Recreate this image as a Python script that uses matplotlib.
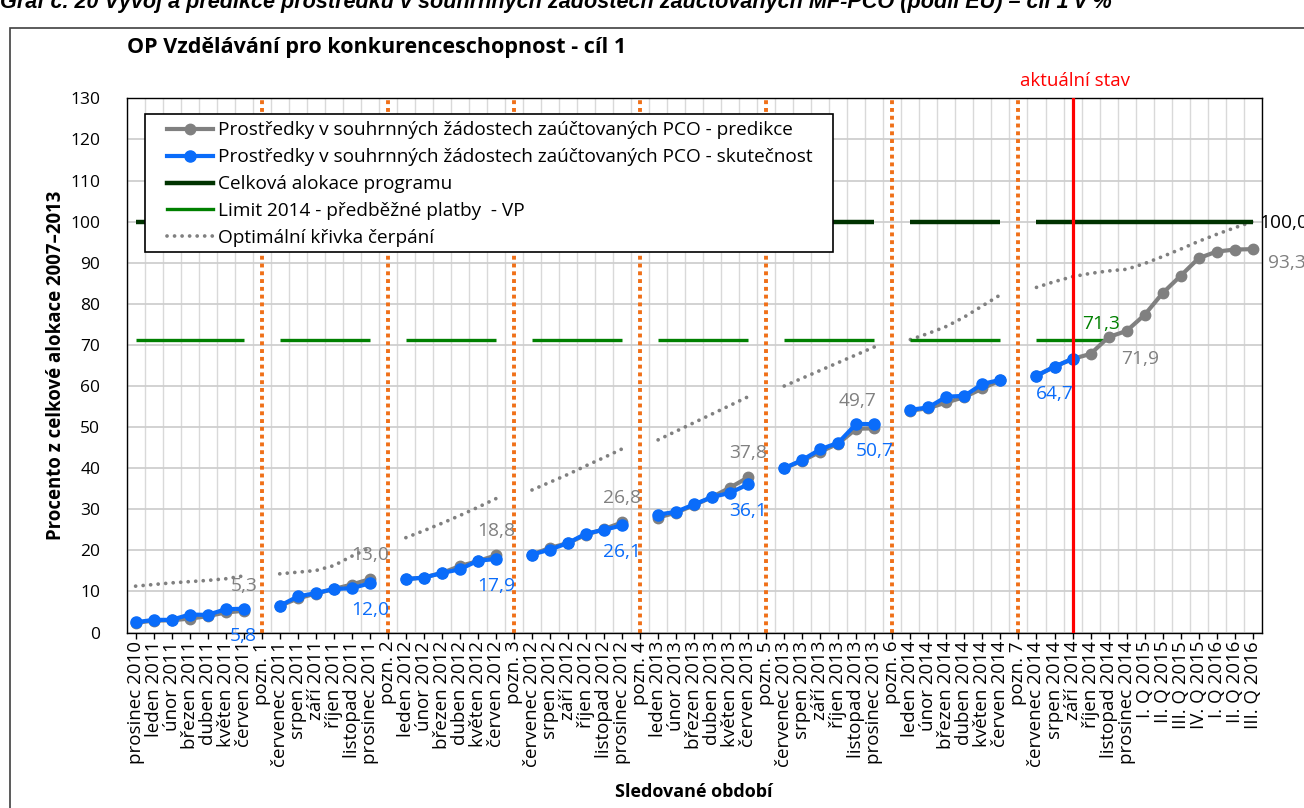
import matplotlib
matplotlib.use("Agg")
import matplotlib.pyplot as plt
import numpy as np
from matplotlib.patches import Rectangle
from matplotlib.lines import Line2D

plt.rcParams['font.family'] = ['Open Sans', 'DejaVu Sans']

# --- data -------------------------------------------------------------
categories = [
    "prosinec 2010", "leden 2011", "únor 2011", "březen 2011", "duben 2011", "květen 2011", "červen 2011", "pozn. 1",
    "červenec 2011", "srpen 2011", "září 2011", "říjen 2011", "listopad 2011", "prosinec 2011", "pozn. 2",
    "leden 2012", "únor 2012", "březen 2012", "duben 2012", "květen 2012", "červen 2012", "pozn. 3",
    "červenec 2012", "srpen 2012", "září 2012", "říjen 2012", "listopad 2012", "prosinec 2012", "pozn. 4",
    "leden 2013", "únor 2013", "březen 2013", "duben 2013", "květen 2013", "červen 2013", "pozn. 5",
    "červenec 2013", "srpen 2013", "září 2013", "říjen 2013", "listopad 2013", "prosinec 2013", "pozn. 6",
    "leden 2014", "únor 2014", "březen 2014", "duben 2014", "květen 2014", "červen 2014", "pozn. 7",
    "červenec 2014", "srpen 2014", "září 2014", "říjen 2014", "listopad 2014", "prosinec 2014",
    "I. Q 2015", "II. Q 2015", "III. Q 2015", "IV. Q 2015", "I. Q 2016", "II. Q 2016", "III. Q 2016",
]

predikce = [
    2.4, 2.9, 3.0, 3.4, 4.0, 4.9, 5.3, None,
    6.5, 8.3, 9.5, 10.6, 11.7, 13.0, None,
    13.0, 13.4, 14.5, 16.2, 17.4, 18.8, None,
    19.0, 20.6, 21.8, 23.8, 25.2, 26.8, None,
    28.0, 29.2, 31.0, 33.0, 35.3, 37.8, None,
    40.0, 41.8, 44.0, 46.0, 49.6, 49.7, None,
    54.0, 54.6, 56.0, 57.3, 59.4, 61.4, None,
    62.5, 64.7, 66.6, 67.8, 71.9, 73.4, 77.3, 82.6, 86.8, 91.1, 92.7, 93.2, 93.3,
]

skutecnost = [
    2.5, 3.1, 3.1, 4.4, 4.3, 5.7, 5.8, None,
    6.5, 8.8, 9.6, 10.6, 10.8, 12.0, None,
    13.0, 13.4, 14.5, 15.4, 17.5, 17.9, None,
    19.0, 20.2, 21.8, 24.1, 25.0, 26.1, None,
    28.7, 29.4, 31.2, 33.0, 34.0, 36.1, None,
    40.0, 42.0, 44.6, 46.2, 50.8, 50.7, None,
    54.2, 54.8, 57.4, 57.6, 60.5, 61.5, None,
    62.5, 64.7, 66.6, None, None, None, None, None, None, None, None, None, None,
]

alokace = [
    100, 100, 100, 100, 100, 100, 100, None,
    100, 100, 100, 100, 100, 100, None,
    100, 100, 100, 100, 100, 100, None,
    100, 100, 100, 100, 100, 100, None,
    100, 100, 100, 100, 100, 100, None,
    100, 100, 100, 100, 100, 100, None,
    100, 100, 100, 100, 100, 100, None,
    100, 100, 100, 100, 100, 100, 100, 100, 100, 100, 100, 100, 100,
]

limit_2014 = [
    71.3, 71.3, 71.3, 71.3, 71.3, 71.3, 71.3, None,
    71.3, 71.3, 71.3, 71.3, 71.3, 71.3, None,
    71.3, 71.3, 71.3, 71.3, 71.3, 71.3, None,
    71.3, 71.3, 71.3, 71.3, 71.3, 71.3, None,
    71.3, 71.3, 71.3, 71.3, 71.3, 71.3, None,
    71.3, 71.3, 71.3, 71.3, 71.3, 71.3, None,
    71.3, 71.3, 71.3, 71.3, 71.3, 71.3, None,
    71.3, 71.3, 71.3, 71.3, 71.3, None, None, None, None, None, None, None, None,
]

optimalni = [
    11.3, 11.7, 12.1, 12.4, 12.7, 13.1, 13.8, None,
    14.3, 14.7, 15.1, 16.3, 18.6, 20.6, None,
    23.1, 24.8, 26.6, 28.5, 30.5, 32.6, None,
    34.7, 36.6, 38.5, 40.6, 42.6, 44.7, None,
    46.9, 49.0, 51.1, 53.2, 55.3, 57.4, None,
    60.0, 61.9, 63.8, 65.7, 67.6, 69.5, None,
    71.3, 72.8, 74.5, 76.8, 79.5, 82.2, None,
    84.0, 85.4, 86.6, 87.4, 88.0, 88.4, 89.8, 91.5, 93.3, 95.2, 96.9, 98.5, 100.0,
]

# which points carry a value label
pred_label_idx = [6, 13, 20, 27, 34, 41, 54, 62]
skut_label_idx = [6, 13, 20, 27, 34, 41, 51]
limit_label_idx = 54
alokace_label_idx = 62
current_period = "září 2014"

labels_legend = [
    "Prostředky v souhrnných žádostech zaúčtovaných PCO - predikce",
    "Prostředky v souhrnných žádostech zaúčtovaných PCO - skutečnost",
    "Celková alokace programu",
    "Limit 2014 - předběžné platby  - VP",
    "Optimální křivka čerpání",
]

# --- colours ----------------------------------------------------------
GREY = '#808080'
BLUE = '#0A6CFA'
DKGREEN = '#003300'
GREEN = '#008000'
ORANGE = '#F07018'
RED = '#FF0000'
OPT_STYLE = (0, (0.01, 2.0))

x = np.arange(len(categories))
pred = np.array(predikce, dtype=float)
skut = np.array(skutecnost, dtype=float)
alok = np.array(alokace, dtype=float)
lim = np.array(limit_2014, dtype=float)
opt = np.array(optimalni, dtype=float)


def fmt(v):
    return f"{v:.1f}".replace('.', ',')


fig = plt.figure(figsize=(13.04, 8.08), dpi=100)
ax = fig.add_axes([0.09709, 0.21708, 0.87048, 0.66126])

# grid
ax.set_axisbelow(True)
ax.set_xticks(x)
ax.set_xticks(np.arange(-0.5, len(categories), 1), minor=True)
ax.grid(axis='x', which='minor', color='#d9d9d9', lw=1.0)
ax.grid(axis='y', which='major', color='#cfcfcf', lw=1.3)

# note separators
pozn_idx = [i for i, c in enumerate(categories) if c.startswith('pozn')]
for i in pozn_idx:
    ax.axvline(i, color=ORANGE, lw=2.8, linestyle=(0, (1, 1)), zorder=2)

ax.plot(x, opt, color=GREY, lw=2.7, linestyle=OPT_STYLE, dash_capstyle='round', zorder=2)
ax.plot(x, alok, color=DKGREEN, lw=3.2, solid_capstyle='butt', zorder=3)
ax.plot(x, lim, color=GREEN, lw=2.4, solid_capstyle='butt', zorder=3)
ax.plot(x, pred, color=GREY, lw=3, marker='o', ms=7.5, zorder=4)
ax.plot(x, skut, color=BLUE, lw=3, marker='o', ms=8, zorder=5)

cur = categories.index(current_period)
ax.axvline(cur, color=RED, lw=2.3, zorder=6)
ax.annotate("aktuální stav", xy=(cur, 130), xytext=(2, 12.7), textcoords='offset points',
            ha='center', va='center', color=RED, fontsize=13.5, annotation_clip=False)

# value labels
for i in pred_label_idx:
    dx, dy, ha = 0, 17.6, 'center'
    if i == 41:
        dx, dy = -12, 20
    elif i == 54:
        dx, dy = 23, -16
    elif i == 62:
        dx, dy, ha = 11, -10, 'left'
    ax.annotate(fmt(pred[i]), xy=(i, pred[i]), xytext=(dx, dy), textcoords='offset points',
                ha=ha, va='center', color=GREY, fontsize=13.8, zorder=7)
for i in skut_label_idx:
    ax.annotate(fmt(skut[i]), xy=(i, skut[i]), xytext=(0, -19.4), textcoords='offset points',
                ha='center', va='center', color=BLUE, fontsize=13.8, zorder=7)
ax.annotate(fmt(lim[limit_label_idx]), xy=(limit_label_idx, lim[limit_label_idx]),
            xytext=(-5.4, 11), textcoords='offset points',
            ha='center', va='center', color=GREEN, fontsize=13.8, zorder=7)
ax.annotate(fmt(alok[alokace_label_idx]), xy=(alokace_label_idx, alok[alokace_label_idx]),
            xytext=(4.8, -1), textcoords='offset points',
            ha='left', va='center', color='black', fontsize=13.8, zorder=7)

# axes
ax.set_xlim(-0.5, len(categories) - 0.5)
ax.set_ylim(0, 130)
ax.set_yticks(np.arange(0, 131, 10))
ax.set_xticklabels(categories, rotation=90, fontsize=13.5)
ax.tick_params(axis='x', which='major', length=4, width=1, direction='out', pad=2)
ax.tick_params(axis='x', which='minor', length=0)
ax.tick_params(axis='y', length=0, pad=19, labelsize=12.5)
for s in ax.spines.values():
    s.set_color('black')
    s.set_linewidth(1)

# legend (frame drawn separately)
ax.add_patch(Rectangle((0.0162, 0.7123), 0.6061, 0.2583, transform=ax.transAxes,
                       facecolor='white', edgecolor='black', lw=1.2, zorder=8))
handles = [
    Line2D([], [], color=GREY, lw=3, marker='o', ms=7.5),
    Line2D([], [], color=BLUE, lw=3, marker='o', ms=8),
    Line2D([], [], color=DKGREEN, lw=3.2),
    Line2D([], [], color=GREEN, lw=2.4),
    Line2D([], [], color=GREY, lw=2.7, linestyle=OPT_STYLE, dash_capstyle='round'),
]
leg = ax.legend(handles, labels_legend, loc='upper left', bbox_to_anchor=(0.0356, 0.9569),
                frameon=False, fontsize=13.7, handlelength=2.42, labelspacing=0.47,
                borderpad=0, borderaxespad=0, handletextpad=0.26)
leg.set_zorder(9)

# texts
fig.text(127 / 1304, 1 - 47 / 808, "OP Vzdělávání pro konkurenceschopnost - cíl 1",
         fontsize=15.5, fontweight='bold', ha='left', va='center')
fig.text(56 / 1304, 1 - 365 / 808, "Procento z celkové alokace 2007–2013",
         fontsize=13.4, fontweight='bold', rotation=90, ha='center', va='center')
fig.text(694 / 1304, 1 - 792 / 808, "Sledované období",
         fontsize=13, fontweight='bold', ha='center', va='center')
fig.text(0 / 1304, 1 - 8 / 808,
         "Graf č. 20 Vývoj a predikce prostředků v souhrnných žádostech zaúčtovaných MF-PCO (podíl EU) – cíl 1 v %",
         fontsize=15.6, fontweight='bold', style='italic', family=['Liberation Sans', 'DejaVu Sans'],
         ha='left', va='baseline')

# outer frame of the chart area
fig.add_artist(Rectangle((10 / 1304, -0.05), 1.1, 1.05 - 28 / 808, transform=fig.transFigure,
                         fill=False, edgecolor='#404040', lw=1.2))

fig.savefig("out.png", dpi=100)
